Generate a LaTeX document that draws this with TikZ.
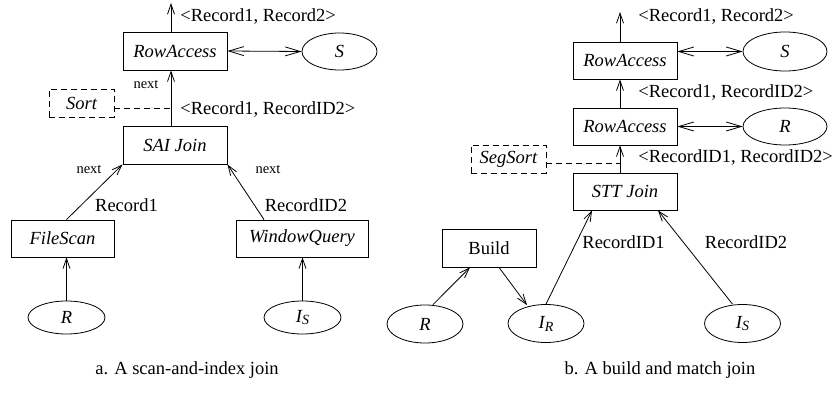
\documentclass[tikz,border=0pt]{standalone}
\usepackage{fontspec}
\setmainfont{Liberation Serif}
\usetikzlibrary{arrows.meta,shapes.geometric}
\newcommand{\subS}[1]{\raisebox{-0.35ex}{\fontsize{14}{14}\selectfont\itshape #1}}
\begin{document}
\begin{tikzpicture}[x=1pt,y=-1pt,
  line width=0.8pt,
  >={Straight Barb[length=10pt,width=7pt]},
  hb/.style={{Straight Barb[length=15pt,width=9pt]}-{Straight Barb[length=15pt,width=9pt]}},
  op/.style={draw,rectangle,inner sep=0pt,font=\fontsize{18.5}{22}\selectfont\itshape},
  rel/.style={draw,ellipse,inner sep=0pt,font=\fontsize{18.5}{22}\selectfont\itshape},
  dbox/.style={draw,dashed,dash pattern=on 6pt off 4pt,rectangle,inner sep=0pt,font=\fontsize{18.5}{22}\selectfont\itshape},
  lbl/.style={inner sep=0pt,font=\fontsize{18.5}{22}\selectfont},
  small/.style={inner sep=0pt,font=\fontsize{14.5}{17}\selectfont}]
\useasboundingbox (0,0) rectangle (837,396);
% ---------- a ----------
\node[op,minimum width=104pt,minimum height=38pt] (ra1) at (175,51) {RowAccess};
\node[rel,minimum width=75pt,minimum height=37pt] (sA) at (339.5,51.5) {S};
\node[op,minimum width=104pt,minimum height=38pt] (sai) at (175,145) {SAI Join};
\node[dbox,minimum width=65pt,minimum height=28pt] (sort) at (81.5,103) {Sort};
\node[op,minimum width=103pt,minimum height=37pt] (fs) at (62.5,238.5) {FileScan};
\node[op,minimum width=132pt,minimum height=37pt] (wq) at (302,238.5) {WindowQuery};
\node[rel,minimum width=77pt,minimum height=33pt] (rA) at (66.5,317.5) {R};
\node[rel,minimum width=77pt,minimum height=33pt] (isA) at (302.5,317.5) {I\subS{S}};
\coordinate (topA) at (171,3);
\coordinate (dashA) at (171,108);
\draw[->] ([xshift=-4pt]ra1.north) -- (topA);
\draw[hb] (ra1.east) -- (sA.west);
\draw[->] ([xshift=-4pt]sai.north) -- ([xshift=-4pt]ra1.south);
\draw[dashed,dash pattern=on 6pt off 4pt] (sort.east |- dashA) -- (dashA);
\draw[->] (rA.north |- fs.north) -- (sai.south west);
\draw[->] ([xshift=-38pt]wq.north) -- (sai.south east);
\draw[->] (rA.north) -- (rA.north |- fs.south);
\draw[->] (isA.north) -- (isA.north |- wq.south);
\node[lbl,anchor=west] (l1) at (180,17) {<Record1, Record2>};
\node[lbl,anchor=west] (l2) at (180,110) {<Record1, RecordID2>};
\node[small] (n1) at (146,84) {next};
\node[small] (n2) at (89,169) {next};
\node[small] (n3) at (268,169) {next};
\node[lbl] (l3) at (126.5,205) {Record1};
\node[lbl] (l4) at (306,205) {RecordID2};
\node[lbl] (capA) at (187,370) {a. A scan-and-index join};
% ---------- b ----------
\node[op,minimum width=104pt,minimum height=37pt] (raT) at (625,60.5) {RowAccess};
\node[rel,minimum width=84pt,minimum height=39pt] (sB) at (785,51.5) {S};
\node[op,minimum width=104pt,minimum height=37pt] (raM) at (625,126.5) {RowAccess};
\node[rel,minimum width=84pt,minimum height=37pt] (rB) at (785,126.5) {R};
\node[dbox,minimum width=75pt,minimum height=28pt] (seg) at (508.5,159) {SegSort};
\node[op,minimum width=104pt,minimum height=37pt] (stt) at (625,191.5) {STT Join};
\node[op,font=\fontsize{18.5}{22}\selectfont,minimum width=94pt,minimum height=38pt] (build) at (489,248) {Build};
\node[rel,minimum width=76pt,minimum height=38pt] (rC) at (425,324) {R};
\node[rel,minimum width=76pt,minimum height=38pt] (iR) at (546,323.5) {I\subS{R}};
\node[rel,minimum width=76pt,minimum height=38pt] (isB) at (742.5,323.5) {I\subS{S}};
\coordinate (topB) at (620,12);
\coordinate (dashB) at (620,163);
\draw[->] ([xshift=-5pt]raT.north) -- (topB);
\draw[hb] (raT.east |- sB) -- (sB.west);
\draw[hb] (raM.east |- rB) -- (rB.west);
\draw[->] ([xshift=-5pt]raM.north) -- ([xshift=-5pt]raT.south);
\draw[->] ([xshift=-5pt]stt.north) -- ([xshift=-5pt]raM.south);
\draw[dashed,dash pattern=on 6pt off 4pt] (seg.east |- dashB) -- (dashB);
\draw[->] ([xshift=8pt]rC.north) -- ([xshift=-19pt]build.south);
\draw[->] ([xshift=10pt]build.south) -- ([xshift=-19pt,yshift=-1pt]iR.north);
\draw[->] (iR.north) -- ([xshift=-33pt]stt.south);
\draw[->] ([xshift=-10pt]isB.north) -- ([xshift=33pt]stt.south);
\node[lbl,anchor=west] (l5) at (638,17) {<Record1, Record2>};
\node[lbl,anchor=west] (l6) at (638,93) {<Record1, RecordID2>};
\node[lbl,anchor=west] (l7) at (638,158) {<RecordID1, RecordID2>};
\node[lbl] (l8) at (623.5,242) {RecordID1};
\node[lbl] (l9) at (746,242) {RecordID2};
\node[lbl] (capB) at (660,370) {b. A build and match join};
\end{tikzpicture}
\end{document}
